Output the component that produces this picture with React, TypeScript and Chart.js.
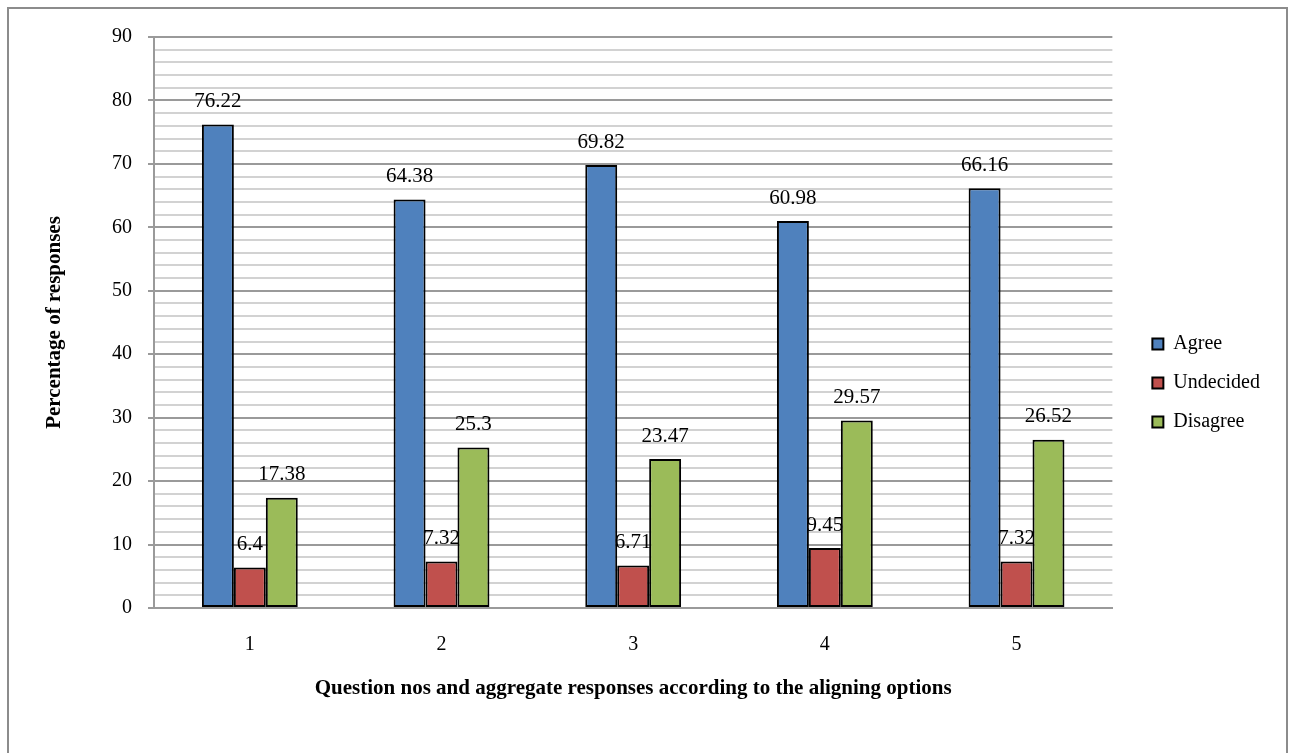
import { useEffect, useRef } from 'react';
import { Chart, registerables } from 'chart.js';

Chart.register(...registerables);

const categories = ['1', '2', '3', '4', '5'];
const seriesNames = ['Agree', 'Undecided', 'Disagree'];
const agree = [76.22, 64.38, 69.82, 60.98, 66.16];
const undecided = [6.4, 7.32, 6.71, 9.45, 7.32];
const disagree = [17.38, 25.3, 23.47, 29.57, 26.52];
const seriesColors = ['#4F81BD', '#C0504D', '#9BBB59'];
const yMin = 0;
const yMax = 90;
const yMajorStep = 10;
const yMinorStep = 2;
const xTitle = 'Question nos and aggregate responses according to the aligning options';
const yTitle = 'Percentage of responses';

const FAMILY = '"Liberation Serif", "Times New Roman", Times, serif';

const outerBorderPlugin = {
  id: 'outerBorder',
  beforeDraw(chart: any) {
    const ctx = chart.ctx;
    ctx.save();
    ctx.fillStyle = '#ffffff';
    ctx.fillRect(0, 0, chart.width, chart.height);
    ctx.strokeStyle = '#8c8c8c';
    ctx.lineWidth = 2;
    ctx.beginPath();
    ctx.moveTo(8, chart.height + 5);
    ctx.lineTo(8, 8);
    ctx.lineTo(1287, 8);
    ctx.lineTo(1287, chart.height + 5);
    ctx.stroke();
    ctx.restore();
  },
};

const valueLabelPlugin = {
  id: 'valueLabels',
  afterDatasetsDraw(chart: any) {
    const ctx = chart.ctx;
    ctx.save();
    ctx.font = `21px ${FAMILY}`;
    ctx.fillStyle = '#000000';
    ctx.textAlign = 'center';
    ctx.textBaseline = 'middle';
    chart.data.datasets.forEach((ds: any, i: number) => {
      const meta = chart.getDatasetMeta(i);
      meta.data.forEach((bar: any, j: number) => {
        const v = ds.data[j];
        ctx.fillText(String(v), bar.x, bar.y - 23);
      });
    });
    ctx.restore();
  },
};

export default function App() {
  const canvasRef = useRef<HTMLCanvasElement | null>(null);

  useEffect(() => {
    if (!canvasRef.current) return;
    const seriesData = [agree, undecided, disagree];
    const isMajor = (v: number) => Math.abs(v % yMajorStep) < 1e-9;
    const chart = new Chart(canvasRef.current, {
      type: 'bar',
      data: {
        labels: categories,
        datasets: seriesNames.map((name, i) => ({
          label: name,
          data: seriesData[i],
          backgroundColor: seriesColors[i],
          borderColor: '#000000',
          borderWidth: 2,
          borderSkipped: false,
          barPercentage: 1,
          categoryPercentage: 0.5,
          yAxisID: 'y',
        })),
      },
      options: {
        responsive: false,
        animation: false,
        devicePixelRatio: 1,
        layout: { padding: { top: 37, bottom: 24, left: 0, right: 24 } },
        plugins: {
          legend: {
            position: 'right',
            labels: {
              boxWidth: 11,
              boxHeight: 11,
              padding: 19,
              color: '#000000',
              font: { family: FAMILY, size: 20 },
            },
          },
          tooltip: { enabled: false },
        },
        scales: {
          x: {
            grid: { display: false, drawTicks: false },
            border: { display: true, color: '#9a9a9a', width: 2 },
            ticks: { color: '#000000', font: { family: FAMILY, size: 20 }, padding: 25 },
            title: {
              display: true,
              text: xTitle,
              color: '#000000',
              font: { family: FAMILY, size: 21, weight: 'bold' },
              padding: { top: 0, bottom: 28 },
            },
            afterFit: (s: any) => {
              s.height = 121;
            },
          },
          y: {
            type: 'linear',
            position: 'left',
            min: yMin,
            max: yMax,
            ticks: {
              stepSize: yMinorStep,
              autoSkip: false,
              maxTicksLimit: 1000,
              color: '#000000',
              font: { family: FAMILY, size: 20 },
              padding: 16,
              callback: (v: any) => (isMajor(Number(v)) ? String(v) : ''),
            },
            grid: {
              color: (c: any) => (c.tick && isMajor(c.tick.value) ? '#9a9a9a' : '#d2d2d2'),
              tickColor: (c: any) => (c.tick && isMajor(c.tick.value) ? '#9a9a9a' : 'rgba(0,0,0,0)'),
              tickLength: 6,
              lineWidth: 2,
            },
            border: { display: true, color: '#9a9a9a', width: 2 },
            title: {
              display: true,
              text: yTitle,
              color: '#000000',
              font: { family: FAMILY, size: 21, weight: 'bold' },
              padding: { top: 42, bottom: 0 },
            },
            afterFit: (s: any) => {
              s.width = 154;
            },
          },
          legendGap: {
            type: 'linear',
            position: 'right',
            display: true,
            grid: { display: false, drawTicks: false },
            ticks: { display: false },
            border: { display: false },
            afterFit: (s: any) => {
              s.width = 21;
            },
          },
        },
      } as any,
      plugins: [outerBorderPlugin, valueLabelPlugin],
    });
    return () => chart.destroy();
  }, []);

  return (
    <div style={{ position: 'absolute', left: 0, top: 0, width: 1294, height: 753, background: '#fff' }}>
      <canvas ref={canvasRef} width={1294} height={753} style={{ display: 'block' }} />
    </div>
  );
}
